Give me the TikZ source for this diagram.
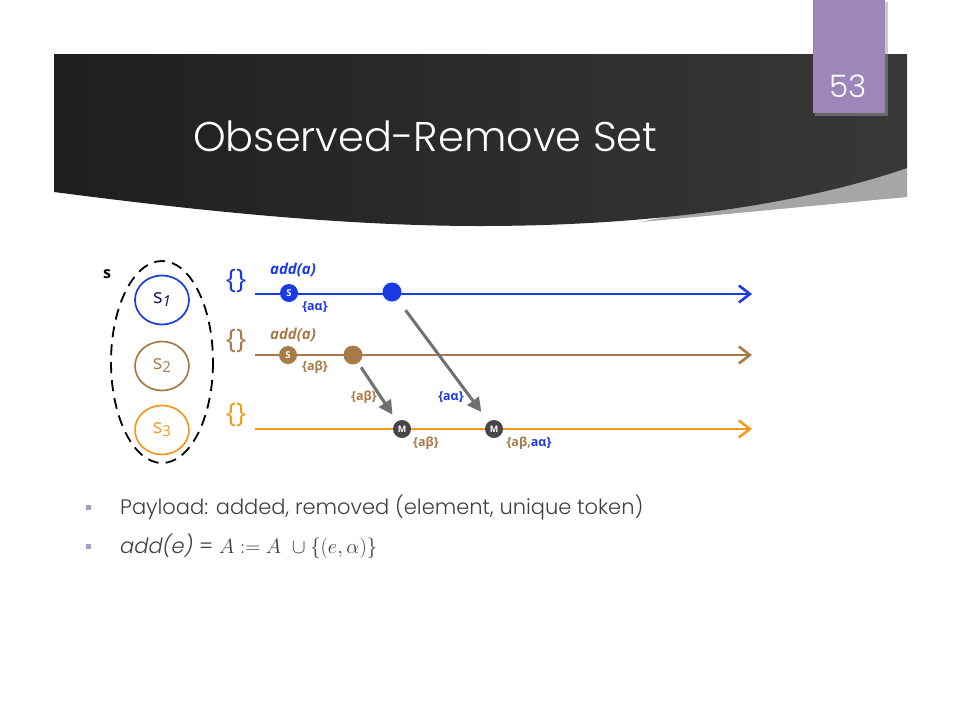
\documentclass[tikz,border=0pt]{standalone}
\usepackage{fontspec}
\setmainfont{Poppins Light}
\newfontfamily\lab{Open Sans}
\usetikzlibrary{arrows.meta,shapes.geometric}
\definecolor{cblue}{RGB}{26,58,230}
\definecolor{cbrown}{RGB}{168,122,72}
\definecolor{corange}{RGB}{243,154,30}
\definecolor{cgray}{RGB}{112,112,112}
\definecolor{cdark}{RGB}{70,70,72}
\definecolor{cpurple}{RGB}{158,134,186}
\definecolor{ctext}{RGB}{64,64,64}
\definecolor{cbullet}{RGB}{165,156,192}
\tikzset{
  tl/.style={line width=2.6pt,-{Straight Barb[length=11pt,width=17pt,line width=2.6pt]}},
  msg/.style={line width=3pt,draw=cgray,-{Triangle[length=14pt,width=14pt]}},
  proc/.style={ellipse,draw,line width=1.7pt,minimum width=54pt,minimum height=49pt,inner sep=0pt,font=\lab\fontsize{20}{20}\selectfont},
  evs/.style={circle,fill,minimum size=18pt,inner sep=0pt,text=white,font=\lab\bfseries\fontsize{9.5}{9.5}\selectfont},
  evm/.style={circle,fill=cdark,minimum size=18pt,inner sep=0pt,text=white,font=\lab\bfseries\fontsize{9}{9}\selectfont},
  dot/.style={circle,fill,minimum size=19pt,inner sep=0pt},
  lbl/.style={font=\lab\bfseries\fontsize{12.5}{13}\selectfont,inner sep=0pt},
  opl/.style={font=\lab\bfseries\itshape\fontsize{15}{15}\selectfont,inner sep=0pt},
  brc/.style={font=\lab\fontsize{27}{27}\selectfont,inner sep=0pt},
  bul/.style={fill=cbullet,minimum size=5pt,inner sep=0pt},
  body/.style={anchor=base west,text=ctext,font=\fontsize{21}{23}\selectfont,inner sep=0pt}
}
\begin{document}
\begin{tikzpicture}[x=1pt,y=-1pt]
\useasboundingbox (0,0) rectangle (960,720);
\fill[white] (0,0) rectangle (960,720);
% header
\fill[gray!70] (907,165) -- (907,197) .. controls (820,205) and (720,215) .. (640,222) -- (700,210) -- cycle;
\shade[left color=black!88,right color=black!78]
  (54,54) -- (907,54) -- (907,168) .. controls (800,205) and (650,226) .. (480,226)
  .. controls (330,226) and (170,207) .. (54,192) -- cycle;
\fill[black!40,opacity=0.5] (815,2) rectangle (888,116);
\fill[cpurple] (813,0) rectangle (885,113);
\node[text=white,font=\fontsize{31}{31}\selectfont] (num) at (848,86) {53};
\node[text=white,font=\fontsize{41.5}{43}\selectfont,anchor=base west,inner sep=0pt] (title) at (193,151) {Observed-Remove Set};
% process group
\node[font=\lab\bfseries\fontsize{16}{16}\selectfont] (sgrp) at (107,274) {s};
\draw[line width=1.8pt,dash pattern=on 11pt off 7pt] (162,362) ellipse [x radius=51, y radius=101];
\node[proc,draw=cblue,text=cblue!40!black] (s1) at (162,300) {s\raisebox{-3pt}{\fontsize{15}{15}\selectfont\itshape 1}};
\node[proc,draw=cbrown,text=cbrown] (s2) at (162,366) {s\raisebox{-3pt}{\fontsize{15}{15}\selectfont 2}};
\node[proc,draw=corange,text=corange] (s3) at (162,430) {s\raisebox{-3pt}{\fontsize{15}{15}\selectfont 3}};
% braces
\node[brc,text=cblue] (b1) at (236,281) {\{\}};
\node[brc,text=cbrown] (b2) at (236,341) {\{\}};
\node[brc,text=corange] (b3) at (236,415) {\{\}};
% timelines
\coordinate (l1s) at (255,294); \coordinate (l1e) at (752,294);
\coordinate (l2s) at (255,355); \coordinate (l2e) at (752,355);
\coordinate (l3s) at (255,429); \coordinate (l3e) at (752,429);
\draw[tl,cblue] (l1s) -- (l1e);
\draw[tl,cbrown] (l2s) -- (l2e);
\draw[tl,corange] (l3s) -- (l3e);
% events
\node[evs,fill=cblue] (sa) at (289,293) {S};
\node[dot,fill=cblue] (da) at (392,292) {};
\node[evs,fill=cbrown] (sb) at (288,355) {S};
\node[dot,fill=cbrown] (db) at (353,355) {};
\node[evm] (m1) at (402,429) {M};
\node[evm] (m2) at (494,429) {M};
% messages
\draw[msg,shorten <=5pt,shorten >=8pt] (db) -- (m1);
\draw[msg,shorten <=13pt,shorten >=12pt] (da) -- (m2);
% labels
\node[opl,text=cblue] (opa) at (293,270) {add(a)};
\node[lbl,text=cblue] (ta) at (315,307) {\{aα\}};
\node[opl,text=cbrown] (opb) at (293,335) {add(a)};
\node[lbl,text=cbrown] (tb) at (315,367) {\{aβ\}};
\node[lbl,text=cbrown] (mb) at (364,397) {\{aβ\}};
\node[lbl,text=cblue] (ma) at (451,397) {\{aα\}};
\node[lbl,text=cbrown] (t1) at (426,443) {\{aβ\}};
\node[lbl,text=cbrown] (t2) at (529,443) {\{aβ,\textcolor{cblue}{aα\}}};
% bullets
\node[bul] (bu1) at (88,507) {};
\node[bul] (bu2) at (88,546) {};
\node[body] (tx1) at (120,514) {Payload: added, removed (element, unique token)};
\node[body] (tx2) at (120,553) {\textit{add(e)} = {\fontsize{22}{24}\selectfont$A \mathrel{:=} A\ \cup \{(e,\alpha)\}$}};
\end{tikzpicture}
\end{document}
